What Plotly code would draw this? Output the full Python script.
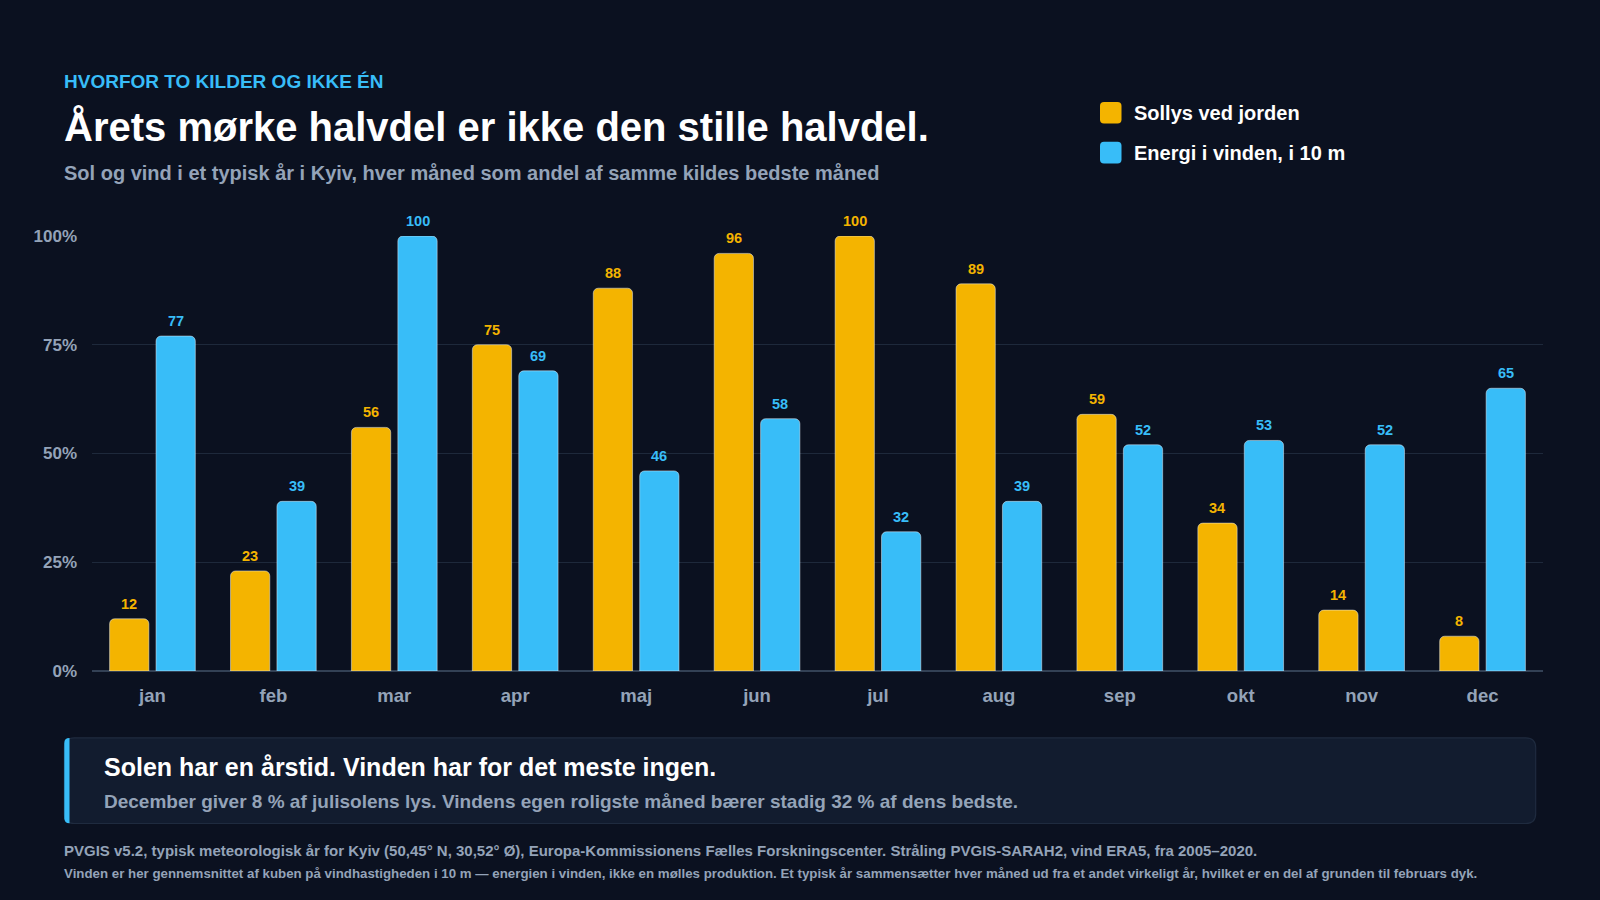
import plotly.graph_objects as go

# data: each month as share of the source's best month (%)
months = ["jan", "feb", "mar", "apr", "maj", "jun", "jul", "aug", "sep", "okt", "nov", "dec"]
sollys = [12, 23, 56, 75, 88, 96, 100, 89, 59, 34, 14, 8]
vind = [77, 39, 100, 69, 46, 58, 32, 39, 52, 53, 52, 65]
y_ticks = [0, 25, 50, 75, 100]
y_ticktext = ["0%", "25%", "50%", "75%", "100%"]

W, H = 1600, 900
L, R, T, B = 92, 57, 236, 229
PW, PH = W - L - R, H - T - B

BG = "#0b1120"
SUN = "#f4b400"
WIND = "#38bdf8"
MUTED = "#94a3b8"
FONT = "Liberation Sans, Arial, sans-serif"
BARGAP, GROUPGAP = 0.232, 0.154


# pixel -> paper helpers for the text around the chart
def px(x):
    return (x - L) / PW


def py(y):
    return (H - B - y) / PH


def rounded(x0p, x1p, y0p, y1p, r, right=True):
    # rounded rect path in paper coords, from pixel edges
    a0, a1, b0, b1 = px(x0p), px(x1p), py(y0p), py(y1p)
    ex, ey = r / PW, r / PH
    rx_r, ry_r = (ex, ey) if right else (0, 0)
    return (f"M {a0 + ex},{b0} L {a1 - rx_r},{b0} Q {a1},{b0} {a1},{b0 - ry_r} "
            f"L {a1},{b1 + ry_r} Q {a1},{b1} {a1 - rx_r},{b1} L {a0 + ex},{b1} "
            f"Q {a0},{b1} {a0},{b1 + ey} L {a0},{b0 - ey} Q {a0},{b0} {a0 + ex},{b0} Z")


fig = go.Figure()
fig.add_trace(go.Bar(
    x=months, y=sollys, name="Sollys ved jorden",
    marker=dict(color=SUN, cornerradius=5), cliponaxis=False,
))
fig.add_trace(go.Bar(
    x=months, y=vind, name="Energi i vinden, i 10 m",
    marker=dict(color=WIND, cornerradius=5), cliponaxis=False,
))

# value labels above each bar (offset = half a bar slot within the group)
off = (1 - BARGAP) / 4
for i in range(len(months)):
    for v, sgn, col in [(sollys[i], -1, SUN), (vind[i], 1, WIND)]:
        fig.add_annotation(x=i + sgn * off, y=v, xref="x", yref="y", text=str(v),
                           showarrow=False, yanchor="bottom", yshift=5,
                           font=dict(size=14.5, color=col, family=FONT, weight="bold"))

fig.update_layout(
    width=W, height=H,
    margin=dict(l=L, r=R, t=T, b=B, pad=0),
    paper_bgcolor=BG, plot_bgcolor=BG,
    font=dict(family=FONT, color=MUTED),
    showlegend=False,
    barmode="group", bargap=BARGAP, bargroupgap=GROUPGAP,
    xaxis=dict(
        range=[-0.5, 11.5], showgrid=False, ticks="", zeroline=False,
        showline=False,
        tickfont=dict(size=18.5, color=MUTED, family=FONT, weight="bold"),
        ticklabelstandoff=11,
    ),
    yaxis=dict(
        range=[0, 100], tickvals=y_ticks, ticktext=y_ticktext,
        showgrid=True, gridcolor="#1e293b", gridwidth=1,
        zeroline=True, zerolinecolor="#334155", zerolinewidth=1.5,
        tickfont=dict(size=17, color=MUTED, family=FONT, weight="bold"),
        ticklabelstandoff=14, fixedrange=True,
    ),
)

shapes = []
# callout box + blue left edge
shapes.append(dict(type="path", xref="paper", yref="paper",
                   path=rounded(64.3, 1535.7, 737.8, 823.5, 10),
                   fillcolor="#121c2f", line=dict(color="#1f2b3f", width=1.2), layer="below"))
shapes.append(dict(type="path", xref="paper", yref="paper",
                   path=rounded(64.3, 69.5, 738, 823.3, 5, right=False),
                   fillcolor=WIND, line=dict(width=0)))

# legend swatches
for yc, col in [(112.8, SUN), (152.6, WIND)]:
    shapes.append(dict(type="path", xref="paper", yref="paper",
                       path=rounded(1100, 1121.5, yc - 10.8, yc + 10.8, 4),
                       fillcolor=col, line=dict(width=0)))

fig.update_layout(shapes=shapes)


def txt(x, y, s, size, color, weight="bold"):
    fig.add_annotation(x=px(x), y=py(y), xref="paper", yref="paper", text=s,
                       showarrow=False, xanchor="left", yanchor="middle",
                       font=dict(size=size, color=color, family=FONT, weight=weight))


txt(62.3, 81.6, "HVORFOR TO KILDER OG IKKE ÉN", 19, WIND)
txt(62.3, 126.5, "Årets mørke halvdel er ikke den stille halvdel.", 40, "#ffffff")
txt(62.3, 173.5, "Sol og vind i et typisk år i Kyiv, hver måned som andel af samme kildes bedste måned", 20, MUTED)
txt(1131.8, 112.8, "Sollys ved jorden", 20, "#ffffff")
txt(1131.8, 152.6, "Energi i vinden, i 10 m", 20, "#ffffff")
txt(102, 767.4, "Solen har en årstid. Vinden har for det meste ingen.", 25, "#ffffff")
txt(102, 801, "December giver 8 % af julisolens lys. Vindens egen roligste måned bærer stadig 32 % af dens bedste.", 19, MUTED)
txt(62.3, 850, "PVGIS v5.2, typisk meteorologisk år for Kyiv (50,45° N, 30,52° Ø), Europa-Kommissionens Fælles Forskningscenter. Stråling PVGIS-SARAH2, vind ERA5, fra 2005–2020.", 15, MUTED)
txt(62.3, 873.5, "Vinden er her gennemsnittet af kuben på vindhastigheden i 10 m — energien i vinden, ikke en mølles produktion. Et typisk år sammensætter hver måned ud fra et andet virkeligt år, hvilket er en del af grunden til februars dyk.", 13.3, MUTED)

# drop the default page margin so the figure fills the window
fig.write_html("out.html", config={"displayModeBar": False},
               post_script="document.body.style.margin='0';document.body.style.background='" + BG + "';")
